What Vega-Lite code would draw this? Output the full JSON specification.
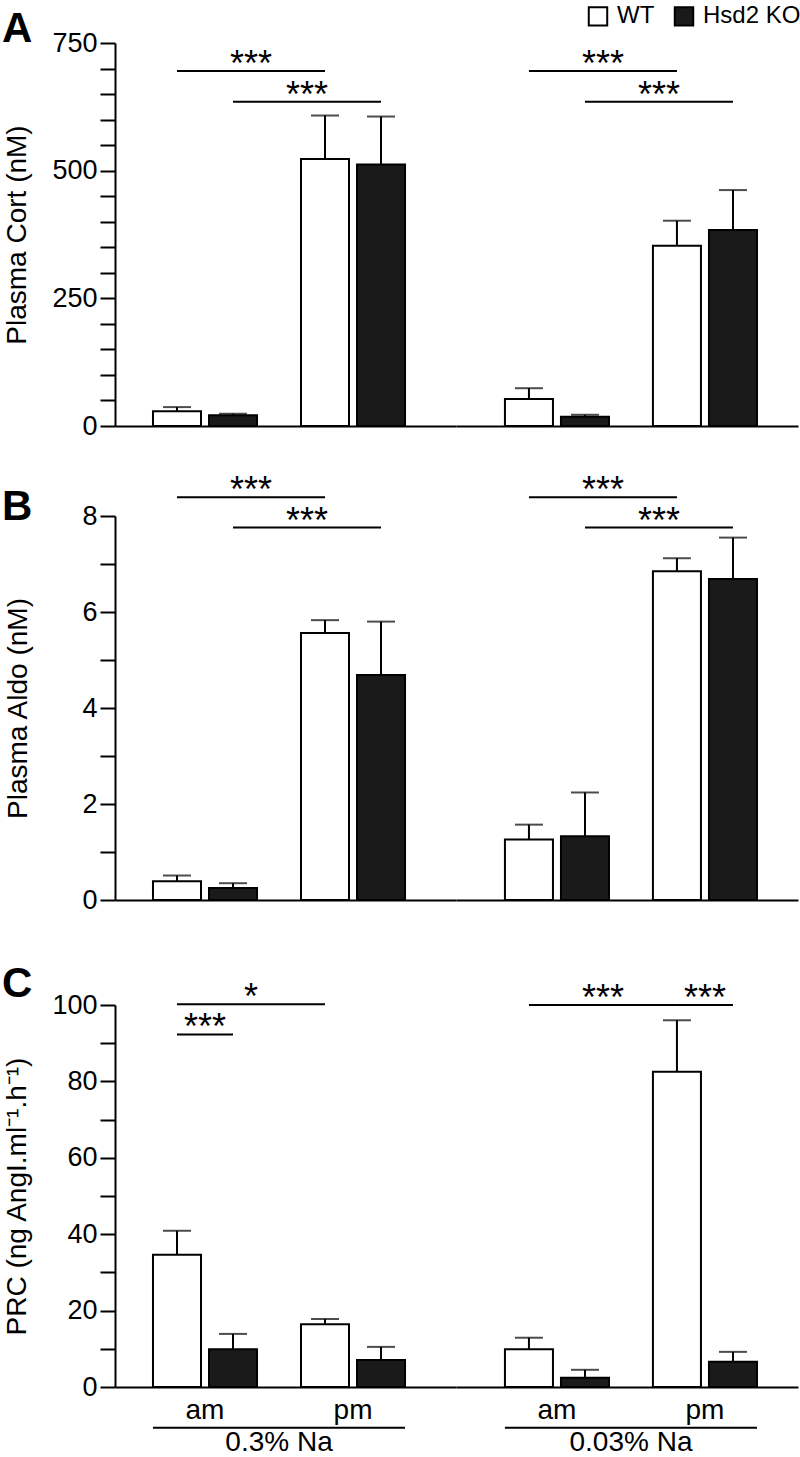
{
  "$schema": "https://vega.github.io/schema/vega-lite/v6.json",
  "padding": {"left": 2, "top": 4, "right": 0, "bottom": 0},
  "datasets": {
    "d": [
      {"panel": "A", "kind": "bar", "diet": "0.3% Na", "time": "am", "genotype": "WT", "mean": 29, "upper": 37},
      {"panel": "A", "kind": "bar", "diet": "0.3% Na", "time": "am", "genotype": "Hsd2 KO", "mean": 21, "upper": 24},
      {"panel": "A", "kind": "bar", "diet": "0.3% Na", "time": "pm", "genotype": "WT", "mean": 523, "upper": 608},
      {"panel": "A", "kind": "bar", "diet": "0.3% Na", "time": "pm", "genotype": "Hsd2 KO", "mean": 512, "upper": 606},
      {"panel": "A", "kind": "bar", "diet": "0.03% Na", "time": "am", "genotype": "WT", "mean": 53, "upper": 74},
      {"panel": "A", "kind": "bar", "diet": "0.03% Na", "time": "am", "genotype": "Hsd2 KO", "mean": 18, "upper": 22},
      {"panel": "A", "kind": "bar", "diet": "0.03% Na", "time": "pm", "genotype": "WT", "mean": 353, "upper": 402},
      {"panel": "A", "kind": "bar", "diet": "0.03% Na", "time": "pm", "genotype": "Hsd2 KO", "mean": 384, "upper": 462},
      {"panel": "A", "kind": "sig", "diet": "0.3% Na", "pair": "A1", "time": "am", "genotype": "WT", "level": 695, "label": "***", "span": "across"},
      {"panel": "A", "kind": "sig", "diet": "0.3% Na", "pair": "A1", "time": "pm", "genotype": "WT", "level": 695},
      {"panel": "A", "kind": "sig", "diet": "0.3% Na", "pair": "A2", "time": "am", "genotype": "Hsd2 KO", "level": 635, "label": "***", "span": "across"},
      {"panel": "A", "kind": "sig", "diet": "0.3% Na", "pair": "A2", "time": "pm", "genotype": "Hsd2 KO", "level": 635},
      {"panel": "A", "kind": "sig", "diet": "0.03% Na", "pair": "A3", "time": "am", "genotype": "WT", "level": 695, "label": "***", "span": "across"},
      {"panel": "A", "kind": "sig", "diet": "0.03% Na", "pair": "A3", "time": "pm", "genotype": "WT", "level": 695},
      {"panel": "A", "kind": "sig", "diet": "0.03% Na", "pair": "A4", "time": "am", "genotype": "Hsd2 KO", "level": 635, "label": "***", "span": "across"},
      {"panel": "A", "kind": "sig", "diet": "0.03% Na", "pair": "A4", "time": "pm", "genotype": "Hsd2 KO", "level": 635},

      {"panel": "B", "kind": "bar", "diet": "0.3% Na", "time": "am", "genotype": "WT", "mean": 0.39, "upper": 0.51},
      {"panel": "B", "kind": "bar", "diet": "0.3% Na", "time": "am", "genotype": "Hsd2 KO", "mean": 0.25, "upper": 0.35},
      {"panel": "B", "kind": "bar", "diet": "0.3% Na", "time": "pm", "genotype": "WT", "mean": 5.56, "upper": 5.83},
      {"panel": "B", "kind": "bar", "diet": "0.3% Na", "time": "pm", "genotype": "Hsd2 KO", "mean": 4.69, "upper": 5.8},
      {"panel": "B", "kind": "bar", "diet": "0.03% Na", "time": "am", "genotype": "WT", "mean": 1.26, "upper": 1.57},
      {"panel": "B", "kind": "bar", "diet": "0.03% Na", "time": "am", "genotype": "Hsd2 KO", "mean": 1.33, "upper": 2.24},
      {"panel": "B", "kind": "bar", "diet": "0.03% Na", "time": "pm", "genotype": "WT", "mean": 6.85, "upper": 7.12},
      {"panel": "B", "kind": "bar", "diet": "0.03% Na", "time": "pm", "genotype": "Hsd2 KO", "mean": 6.69, "upper": 7.55},
      {"panel": "B", "kind": "sig", "diet": "0.3% Na", "pair": "B1", "time": "am", "genotype": "WT", "level": 8.39, "label": "***", "span": "across"},
      {"panel": "B", "kind": "sig", "diet": "0.3% Na", "pair": "B1", "time": "pm", "genotype": "WT", "level": 8.39},
      {"panel": "B", "kind": "sig", "diet": "0.3% Na", "pair": "B2", "time": "am", "genotype": "Hsd2 KO", "level": 7.76, "label": "***", "span": "across"},
      {"panel": "B", "kind": "sig", "diet": "0.3% Na", "pair": "B2", "time": "pm", "genotype": "Hsd2 KO", "level": 7.76},
      {"panel": "B", "kind": "sig", "diet": "0.03% Na", "pair": "B3", "time": "am", "genotype": "WT", "level": 8.39, "label": "***", "span": "across"},
      {"panel": "B", "kind": "sig", "diet": "0.03% Na", "pair": "B3", "time": "pm", "genotype": "WT", "level": 8.39},
      {"panel": "B", "kind": "sig", "diet": "0.03% Na", "pair": "B4", "time": "am", "genotype": "Hsd2 KO", "level": 7.76, "label": "***", "span": "across"},
      {"panel": "B", "kind": "sig", "diet": "0.03% Na", "pair": "B4", "time": "pm", "genotype": "Hsd2 KO", "level": 7.76},

      {"panel": "C", "kind": "bar", "diet": "0.3% Na", "time": "am", "genotype": "WT", "mean": 34.6, "upper": 40.9},
      {"panel": "C", "kind": "bar", "diet": "0.3% Na", "time": "am", "genotype": "Hsd2 KO", "mean": 9.9, "upper": 13.9},
      {"panel": "C", "kind": "bar", "diet": "0.3% Na", "time": "pm", "genotype": "WT", "mean": 16.4, "upper": 17.8},
      {"panel": "C", "kind": "bar", "diet": "0.3% Na", "time": "pm", "genotype": "Hsd2 KO", "mean": 7.1, "upper": 10.5},
      {"panel": "C", "kind": "bar", "diet": "0.03% Na", "time": "am", "genotype": "WT", "mean": 9.9, "upper": 12.9},
      {"panel": "C", "kind": "bar", "diet": "0.03% Na", "time": "am", "genotype": "Hsd2 KO", "mean": 2.4, "upper": 4.5},
      {"panel": "C", "kind": "bar", "diet": "0.03% Na", "time": "pm", "genotype": "WT", "mean": 82.5, "upper": 96.0},
      {"panel": "C", "kind": "bar", "diet": "0.03% Na", "time": "pm", "genotype": "Hsd2 KO", "mean": 6.6, "upper": 9.2},
      {"panel": "C", "kind": "sig", "diet": "0.3% Na", "pair": "C1", "time": "am", "genotype": "WT", "level": 100.2, "label": "*", "span": "across"},
      {"panel": "C", "kind": "sig", "diet": "0.3% Na", "pair": "C1", "time": "pm", "genotype": "WT", "level": 100.2},
      {"panel": "C", "kind": "sig", "diet": "0.3% Na", "pair": "C2", "time": "am", "genotype": "WT", "level": 92.3, "label": "***", "span": "within"},
      {"panel": "C", "kind": "sig", "diet": "0.3% Na", "pair": "C2", "time": "am", "genotype": "Hsd2 KO", "level": 92.3},
      {"panel": "C", "kind": "sig", "diet": "0.03% Na", "pair": "C3", "time": "am", "genotype": "WT", "level": 100, "label": "***", "span": "across"},
      {"panel": "C", "kind": "sig", "diet": "0.03% Na", "pair": "C3", "time": "pm", "genotype": "WT", "level": 100},
      {"panel": "C", "kind": "sig", "diet": "0.03% Na", "pair": "C4", "time": "pm", "genotype": "WT", "level": 100, "label": "***", "span": "within"},
      {"panel": "C", "kind": "sig", "diet": "0.03% Na", "pair": "C4", "time": "pm", "genotype": "Hsd2 KO", "level": 100},
      {"panel": "C", "kind": "grp", "diet": "0.3% Na"},
      {"panel": "C", "kind": "grp", "diet": "0.03% Na"}
    ]
  },
  "data": {"name": "d"},
  "config": {
    "font": "Liberation Sans",
    "view": {"stroke": null},
    "axis": {"domainColor": "black", "domainWidth": 2, "tickColor": "black", "tickWidth": 2, "labelColor": "black", "labelFont": "Liberation Sans", "labelFontSize": 27, "titleFont": "Liberation Sans", "titleFontSize": 28, "titleFontWeight": "normal", "titleColor": "black", "grid": false},
    "legend": {"orient": "none", "legendX": 471, "legendY": -39, "direction": "horizontal", "symbolType": "square", "symbolSize": 340, "symbolStrokeColor": "black", "symbolStrokeWidth": 2, "symbolOpacity": 1, "labelFontSize": 24, "labelFont": "Liberation Sans", "labelColor": "black", "labelOffset": 7, "columnPadding": 15, "padding": 0},
    "title": {"font": "Liberation Sans", "color": "black"},
    "text": {"font": "Liberation Sans", "color": "black"}
  },
  "resolve": {"scale": {"xOffset": "independent"}},
  "spacing": 34,
  "vconcat": [
    {
      "hconcat": [
        {
          "width": 341, "height": 383,
          "title": {"text": "A", "orient": "top", "anchor": "start", "frame": "group", "fontSize": 42, "fontWeight": "bold", "baseline": "alphabetic", "dx": -113, "offset": -55},
          "transform": [{"filter": "datum.panel === 'A' && datum.diet === '0.3% Na'"}],
          "encoding": {"x": {"field": "time", "type": "nominal", "scale": {"domain": ["am", "pm"], "paddingInner": 0.297, "paddingOuter": 0.3005, "align": 0.427}, "axis": {"title": null, "labels": false, "ticks": false}}},
          "layer": [
            {"transform": [{"filter": "datum.kind === 'bar'"}], "mark": {"type": "bar", "stroke": "black", "strokeWidth": 2},
             "encoding": {"xOffset": {"field": "genotype", "type": "nominal", "scale": {"domain": ["WT", "Hsd2 KO"], "paddingInner": 0.143, "paddingOuter": 0}},
               "y": {"field": "mean", "type": "quantitative", "scale": {"domain": [0, 750], "nice": false}, "axis": {"title": "Plasma Cort (nM)", "values": [0, 50, 100, 150, 200, 250, 300, 350, 400, 450, 500, 550, 600, 650, 700, 750], "labelExpr": "datum.value % 250 === 0 ? datum.label : ''", "tickSize": 15, "labelPadding": 3, "titlePadding": 20, "encode": {"ticks": {"update": {"x2": {"signal": "datum.value % 250 === 0 ? -15 : -10"}}}}}},
               "fill": {"field": "genotype", "type": "nominal", "title": null, "scale": {"domain": ["WT", "Hsd2 KO"], "range": ["white", "#1a1a1a"]}}}},
            {"transform": [{"filter": "datum.kind === 'bar'"}], "mark": {"type": "rule", "color": "black", "strokeWidth": 2},
             "encoding": {"xOffset": {"field": "genotype", "type": "nominal", "scale": {"domain": ["WT", "Hsd2 KO"], "paddingInner": 0.143, "paddingOuter": 0}},
               "y": {"field": "mean", "type": "quantitative", "scale": {"domain": [0, 750], "nice": false}, "axis": {"title": "Plasma Cort (nM)", "values": [0, 50, 100, 150, 200, 250, 300, 350, 400, 450, 500, 550, 600, 650, 700, 750], "labelExpr": "datum.value % 250 === 0 ? datum.label : ''", "tickSize": 15, "labelPadding": 3, "titlePadding": 20, "encode": {"ticks": {"update": {"x2": {"signal": "datum.value % 250 === 0 ? -15 : -10"}}}}}}, "y2": {"field": "upper"}}},
            {"transform": [{"filter": "datum.kind === 'bar'"}], "mark": {"type": "tick", "color": "black", "thickness": 2, "size": 28, "orient": "horizontal"},
             "encoding": {"xOffset": {"field": "genotype", "type": "nominal", "scale": {"domain": ["WT", "Hsd2 KO"], "paddingInner": 0.143, "paddingOuter": 0}},
               "y": {"field": "upper", "type": "quantitative", "scale": {"domain": [0, 750], "nice": false}, "axis": {"title": "Plasma Cort (nM)", "values": [0, 50, 100, 150, 200, 250, 300, 350, 400, 450, 500, 550, 600, 650, 700, 750], "labelExpr": "datum.value % 250 === 0 ? datum.label : ''", "tickSize": 15, "labelPadding": 3, "titlePadding": 20, "encode": {"ticks": {"update": {"x2": {"signal": "datum.value % 250 === 0 ? -15 : -10"}}}}}}}},
            {"transform": [{"filter": "datum.kind === 'sig'"}], "mark": {"type": "line", "color": "black", "strokeWidth": 2},
             "encoding": {"xOffset": {"field": "genotype", "type": "nominal", "scale": {"domain": ["WT", "Hsd2 KO"], "paddingInner": 0.143, "paddingOuter": 0}},
               "y": {"field": "level", "type": "quantitative", "scale": {"domain": [0, 750], "nice": false}, "axis": {"title": "Plasma Cort (nM)", "values": [0, 50, 100, 150, 200, 250, 300, 350, 400, 450, 500, 550, 600, 650, 700, 750], "labelExpr": "datum.value % 250 === 0 ? datum.label : ''", "tickSize": 15, "labelPadding": 3, "titlePadding": 20, "encode": {"ticks": {"update": {"x2": {"signal": "datum.value % 250 === 0 ? -15 : -10"}}}}}}, "detail": {"field": "pair"}}},
            {"transform": [{"filter": "datum.kind === 'sig' && datum.span === 'across'"}], "mark": {"type": "text", "fontSize": 36, "baseline": "alphabetic", "dx": 74, "dy": 5},
             "encoding": {"xOffset": {"field": "genotype", "type": "nominal", "scale": {"domain": ["WT", "Hsd2 KO"], "paddingInner": 0.143, "paddingOuter": 0}},
               "y": {"field": "level", "type": "quantitative", "scale": {"domain": [0, 750], "nice": false}, "axis": {"title": "Plasma Cort (nM)", "values": [0, 50, 100, 150, 200, 250, 300, 350, 400, 450, 500, 550, 600, 650, 700, 750], "labelExpr": "datum.value % 250 === 0 ? datum.label : ''", "tickSize": 15, "labelPadding": 3, "titlePadding": 20, "encode": {"ticks": {"update": {"x2": {"signal": "datum.value % 250 === 0 ? -15 : -10"}}}}}}, "text": {"field": "label"}}}
          ]
        },
        {
          "width": 342, "height": 383,
          "transform": [{"filter": "datum.panel === 'A' && datum.diet === '0.03% Na'"}],
          "encoding": {"x": {"field": "time", "type": "nominal", "scale": {"domain": ["am", "pm"], "paddingInner": 0.297, "paddingOuter": 0.3039, "align": 0.544}, "axis": {"title": null, "labels": false, "ticks": false}}},
          "layer": [
            {"transform": [{"filter": "datum.kind === 'bar'"}], "mark": {"type": "bar", "stroke": "black", "strokeWidth": 2},
             "encoding": {"xOffset": {"field": "genotype", "type": "nominal", "scale": {"domain": ["WT", "Hsd2 KO"], "paddingInner": 0.143, "paddingOuter": 0}},
               "y": {"field": "mean", "type": "quantitative", "scale": {"domain": [0, 750], "nice": false}, "axis": null},
               "fill": {"field": "genotype", "type": "nominal", "title": null, "scale": {"domain": ["WT", "Hsd2 KO"], "range": ["white", "#1a1a1a"]}}}},
            {"transform": [{"filter": "datum.kind === 'bar'"}], "mark": {"type": "rule", "color": "black", "strokeWidth": 2},
             "encoding": {"xOffset": {"field": "genotype", "type": "nominal", "scale": {"domain": ["WT", "Hsd2 KO"], "paddingInner": 0.143, "paddingOuter": 0}},
               "y": {"field": "mean", "type": "quantitative", "scale": {"domain": [0, 750], "nice": false}, "axis": null}, "y2": {"field": "upper"}}},
            {"transform": [{"filter": "datum.kind === 'bar'"}], "mark": {"type": "tick", "color": "black", "thickness": 2, "size": 28, "orient": "horizontal"},
             "encoding": {"xOffset": {"field": "genotype", "type": "nominal", "scale": {"domain": ["WT", "Hsd2 KO"], "paddingInner": 0.143, "paddingOuter": 0}},
               "y": {"field": "upper", "type": "quantitative", "scale": {"domain": [0, 750], "nice": false}, "axis": null}}},
            {"transform": [{"filter": "datum.kind === 'sig'"}], "mark": {"type": "line", "color": "black", "strokeWidth": 2},
             "encoding": {"xOffset": {"field": "genotype", "type": "nominal", "scale": {"domain": ["WT", "Hsd2 KO"], "paddingInner": 0.143, "paddingOuter": 0}},
               "y": {"field": "level", "type": "quantitative", "scale": {"domain": [0, 750], "nice": false}, "axis": null}, "detail": {"field": "pair"}}},
            {"transform": [{"filter": "datum.kind === 'sig' && datum.span === 'across'"}], "mark": {"type": "text", "fontSize": 36, "baseline": "alphabetic", "dx": 74, "dy": 5},
             "encoding": {"xOffset": {"field": "genotype", "type": "nominal", "scale": {"domain": ["WT", "Hsd2 KO"], "paddingInner": 0.143, "paddingOuter": 0}},
               "y": {"field": "level", "type": "quantitative", "scale": {"domain": [0, 750], "nice": false}, "axis": null}, "text": {"field": "label"}}}
          ]
        }
      ],
      "spacing": 0, "bounds": "flush",
      "resolve": {"scale": {"xOffset": "independent"}}
    },
    {
      "vconcat": [
        {
          "hconcat": [
            {
              "width": 341, "height": 384,
              "title": {"text": "B", "orient": "top", "anchor": "start", "frame": "group", "fontSize": 42, "fontWeight": "bold", "baseline": "alphabetic", "dx": -113, "offset": -89},
              "transform": [{"filter": "datum.panel === 'B' && datum.diet === '0.3% Na'"}],
              "encoding": {"x": {"field": "time", "type": "nominal", "scale": {"domain": ["am", "pm"], "paddingInner": 0.297, "paddingOuter": 0.3005, "align": 0.427}, "axis": {"title": null, "labels": false, "ticks": false}}},
              "layer": [
                {"transform": [{"filter": "datum.kind === 'bar'"}], "mark": {"type": "bar", "stroke": "black", "strokeWidth": 2},
                 "encoding": {"xOffset": {"field": "genotype", "type": "nominal", "scale": {"domain": ["WT", "Hsd2 KO"], "paddingInner": 0.143, "paddingOuter": 0}},
                   "y": {"field": "mean", "type": "quantitative", "scale": {"domain": [0, 8], "nice": false}, "axis": {"title": "Plasma Aldo (nM)", "values": [0, 1, 2, 3, 4, 5, 6, 7, 8], "labelExpr": "datum.value % 2 === 0 ? datum.label : ''", "tickSize": 15, "labelPadding": 3, "titlePadding": 49, "encode": {"ticks": {"update": {"x2": {"signal": "datum.value % 2 === 0 ? -15 : -10"}}}}}},
                   "fill": {"field": "genotype", "type": "nominal", "title": null, "scale": {"domain": ["WT", "Hsd2 KO"], "range": ["white", "#1a1a1a"]}}}},
                {"transform": [{"filter": "datum.kind === 'bar'"}], "mark": {"type": "rule", "color": "black", "strokeWidth": 2},
                 "encoding": {"xOffset": {"field": "genotype", "type": "nominal", "scale": {"domain": ["WT", "Hsd2 KO"], "paddingInner": 0.143, "paddingOuter": 0}},
                   "y": {"field": "mean", "type": "quantitative", "scale": {"domain": [0, 8], "nice": false}, "axis": {"title": "Plasma Aldo (nM)", "values": [0, 1, 2, 3, 4, 5, 6, 7, 8], "labelExpr": "datum.value % 2 === 0 ? datum.label : ''", "tickSize": 15, "labelPadding": 3, "titlePadding": 49, "encode": {"ticks": {"update": {"x2": {"signal": "datum.value % 2 === 0 ? -15 : -10"}}}}}}, "y2": {"field": "upper"}}},
                {"transform": [{"filter": "datum.kind === 'bar'"}], "mark": {"type": "tick", "color": "black", "thickness": 2, "size": 28, "orient": "horizontal"},
                 "encoding": {"xOffset": {"field": "genotype", "type": "nominal", "scale": {"domain": ["WT", "Hsd2 KO"], "paddingInner": 0.143, "paddingOuter": 0}},
                   "y": {"field": "upper", "type": "quantitative", "scale": {"domain": [0, 8], "nice": false}, "axis": {"title": "Plasma Aldo (nM)", "values": [0, 1, 2, 3, 4, 5, 6, 7, 8], "labelExpr": "datum.value % 2 === 0 ? datum.label : ''", "tickSize": 15, "labelPadding": 3, "titlePadding": 49, "encode": {"ticks": {"update": {"x2": {"signal": "datum.value % 2 === 0 ? -15 : -10"}}}}}}}},
                {"transform": [{"filter": "datum.kind === 'sig'"}], "mark": {"type": "line", "color": "black", "strokeWidth": 2},
                 "encoding": {"xOffset": {"field": "genotype", "type": "nominal", "scale": {"domain": ["WT", "Hsd2 KO"], "paddingInner": 0.143, "paddingOuter": 0}},
                   "y": {"field": "level", "type": "quantitative", "scale": {"domain": [0, 8], "nice": false}, "axis": {"title": "Plasma Aldo (nM)", "values": [0, 1, 2, 3, 4, 5, 6, 7, 8], "labelExpr": "datum.value % 2 === 0 ? datum.label : ''", "tickSize": 15, "labelPadding": 3, "titlePadding": 49, "encode": {"ticks": {"update": {"x2": {"signal": "datum.value % 2 === 0 ? -15 : -10"}}}}}}, "detail": {"field": "pair"}}},
                {"transform": [{"filter": "datum.kind === 'sig' && datum.span === 'across'"}], "mark": {"type": "text", "fontSize": 36, "baseline": "alphabetic", "dx": 74, "dy": 5},
                 "encoding": {"xOffset": {"field": "genotype", "type": "nominal", "scale": {"domain": ["WT", "Hsd2 KO"], "paddingInner": 0.143, "paddingOuter": 0}},
                   "y": {"field": "level", "type": "quantitative", "scale": {"domain": [0, 8], "nice": false}, "axis": {"title": "Plasma Aldo (nM)", "values": [0, 1, 2, 3, 4, 5, 6, 7, 8], "labelExpr": "datum.value % 2 === 0 ? datum.label : ''", "tickSize": 15, "labelPadding": 3, "titlePadding": 49, "encode": {"ticks": {"update": {"x2": {"signal": "datum.value % 2 === 0 ? -15 : -10"}}}}}}, "text": {"field": "label"}}}
              ]
            },
            {
              "width": 342, "height": 384,
              "transform": [{"filter": "datum.panel === 'B' && datum.diet === '0.03% Na'"}],
              "encoding": {"x": {"field": "time", "type": "nominal", "scale": {"domain": ["am", "pm"], "paddingInner": 0.297, "paddingOuter": 0.3039, "align": 0.544}, "axis": {"title": null, "labels": false, "ticks": false}}},
              "layer": [
                {"transform": [{"filter": "datum.kind === 'bar'"}], "mark": {"type": "bar", "stroke": "black", "strokeWidth": 2},
                 "encoding": {"xOffset": {"field": "genotype", "type": "nominal", "scale": {"domain": ["WT", "Hsd2 KO"], "paddingInner": 0.143, "paddingOuter": 0}},
                   "y": {"field": "mean", "type": "quantitative", "scale": {"domain": [0, 8], "nice": false}, "axis": null},
                   "fill": {"field": "genotype", "type": "nominal", "title": null, "scale": {"domain": ["WT", "Hsd2 KO"], "range": ["white", "#1a1a1a"]}}}},
                {"transform": [{"filter": "datum.kind === 'bar'"}], "mark": {"type": "rule", "color": "black", "strokeWidth": 2},
                 "encoding": {"xOffset": {"field": "genotype", "type": "nominal", "scale": {"domain": ["WT", "Hsd2 KO"], "paddingInner": 0.143, "paddingOuter": 0}},
                   "y": {"field": "mean", "type": "quantitative", "scale": {"domain": [0, 8], "nice": false}, "axis": null}, "y2": {"field": "upper"}}},
                {"transform": [{"filter": "datum.kind === 'bar'"}], "mark": {"type": "tick", "color": "black", "thickness": 2, "size": 28, "orient": "horizontal"},
                 "encoding": {"xOffset": {"field": "genotype", "type": "nominal", "scale": {"domain": ["WT", "Hsd2 KO"], "paddingInner": 0.143, "paddingOuter": 0}},
                   "y": {"field": "upper", "type": "quantitative", "scale": {"domain": [0, 8], "nice": false}, "axis": null}}},
                {"transform": [{"filter": "datum.kind === 'sig'"}], "mark": {"type": "line", "color": "black", "strokeWidth": 2},
                 "encoding": {"xOffset": {"field": "genotype", "type": "nominal", "scale": {"domain": ["WT", "Hsd2 KO"], "paddingInner": 0.143, "paddingOuter": 0}},
                   "y": {"field": "level", "type": "quantitative", "scale": {"domain": [0, 8], "nice": false}, "axis": null}, "detail": {"field": "pair"}}},
                {"transform": [{"filter": "datum.kind === 'sig' && datum.span === 'across'"}], "mark": {"type": "text", "fontSize": 36, "baseline": "alphabetic", "dx": 74, "dy": 5},
                 "encoding": {"xOffset": {"field": "genotype", "type": "nominal", "scale": {"domain": ["WT", "Hsd2 KO"], "paddingInner": 0.143, "paddingOuter": 0}},
                   "y": {"field": "level", "type": "quantitative", "scale": {"domain": [0, 8], "nice": false}, "axis": null}, "text": {"field": "label"}}}
              ]
            }
          ],
          "spacing": 0, "bounds": "flush",
          "resolve": {"scale": {"xOffset": "independent"}}
        },
        {
          "hconcat": [
            {
              "width": 341, "height": 382,
              "title": {"text": "C", "orient": "top", "anchor": "start", "frame": "group", "fontSize": 42, "fontWeight": "bold", "baseline": "alphabetic", "dx": -113, "offset": -58.5},
              "transform": [{"filter": "datum.panel === 'C' && datum.diet === '0.3% Na'"}],
              "encoding": {"x": {"field": "time", "type": "nominal", "scale": {"domain": ["am", "pm"], "paddingInner": 0.297, "paddingOuter": 0.3005, "align": 0.427}, "axis": {"title": null, "ticks": false, "labelFontSize": 28, "labelPadding": 9, "labelAngle": 0}}},
              "layer": [
                {"transform": [{"filter": "datum.kind === 'bar'"}], "mark": {"type": "bar", "stroke": "black", "strokeWidth": 2},
                 "encoding": {"xOffset": {"field": "genotype", "type": "nominal", "scale": {"domain": ["WT", "Hsd2 KO"], "paddingInner": 0.143, "paddingOuter": 0}},
                   "y": {"field": "mean", "type": "quantitative", "scale": {"domain": [0, 100], "nice": false}, "axis": {"title": "PRC (ng AngI.ml⁻¹.h⁻¹)", "values": [0, 10, 20, 30, 40, 50, 60, 70, 80, 90, 100], "labelExpr": "datum.value % 20 === 0 ? datum.label : ''", "tickSize": 15, "labelPadding": 3, "titlePadding": 20, "encode": {"ticks": {"update": {"x2": {"signal": "datum.value % 20 === 0 ? -15 : -10"}}}}}},
                   "fill": {"field": "genotype", "type": "nominal", "title": null, "scale": {"domain": ["WT", "Hsd2 KO"], "range": ["white", "#1a1a1a"]}}}},
                {"transform": [{"filter": "datum.kind === 'bar'"}], "mark": {"type": "rule", "color": "black", "strokeWidth": 2},
                 "encoding": {"xOffset": {"field": "genotype", "type": "nominal", "scale": {"domain": ["WT", "Hsd2 KO"], "paddingInner": 0.143, "paddingOuter": 0}},
                   "y": {"field": "mean", "type": "quantitative", "scale": {"domain": [0, 100], "nice": false}, "axis": {"title": "PRC (ng AngI.ml⁻¹.h⁻¹)", "values": [0, 10, 20, 30, 40, 50, 60, 70, 80, 90, 100], "labelExpr": "datum.value % 20 === 0 ? datum.label : ''", "tickSize": 15, "labelPadding": 3, "titlePadding": 20, "encode": {"ticks": {"update": {"x2": {"signal": "datum.value % 20 === 0 ? -15 : -10"}}}}}}, "y2": {"field": "upper"}}},
                {"transform": [{"filter": "datum.kind === 'bar'"}], "mark": {"type": "tick", "color": "black", "thickness": 2, "size": 28, "orient": "horizontal"},
                 "encoding": {"xOffset": {"field": "genotype", "type": "nominal", "scale": {"domain": ["WT", "Hsd2 KO"], "paddingInner": 0.143, "paddingOuter": 0}},
                   "y": {"field": "upper", "type": "quantitative", "scale": {"domain": [0, 100], "nice": false}, "axis": {"title": "PRC (ng AngI.ml⁻¹.h⁻¹)", "values": [0, 10, 20, 30, 40, 50, 60, 70, 80, 90, 100], "labelExpr": "datum.value % 20 === 0 ? datum.label : ''", "tickSize": 15, "labelPadding": 3, "titlePadding": 20, "encode": {"ticks": {"update": {"x2": {"signal": "datum.value % 20 === 0 ? -15 : -10"}}}}}}}},
                {"transform": [{"filter": "datum.kind === 'sig'"}], "mark": {"type": "line", "color": "black", "strokeWidth": 2},
                 "encoding": {"xOffset": {"field": "genotype", "type": "nominal", "scale": {"domain": ["WT", "Hsd2 KO"], "paddingInner": 0.143, "paddingOuter": 0}},
                   "y": {"field": "level", "type": "quantitative", "scale": {"domain": [0, 100], "nice": false}, "axis": {"title": "PRC (ng AngI.ml⁻¹.h⁻¹)", "values": [0, 10, 20, 30, 40, 50, 60, 70, 80, 90, 100], "labelExpr": "datum.value % 20 === 0 ? datum.label : ''", "tickSize": 15, "labelPadding": 3, "titlePadding": 20, "encode": {"ticks": {"update": {"x2": {"signal": "datum.value % 20 === 0 ? -15 : -10"}}}}}}, "detail": {"field": "pair"}}},
                {"transform": [{"filter": "datum.kind === 'sig' && datum.span === 'across'"}], "mark": {"type": "text", "fontSize": 36, "baseline": "alphabetic", "dx": 74, "dy": 5},
                 "encoding": {"xOffset": {"field": "genotype", "type": "nominal", "scale": {"domain": ["WT", "Hsd2 KO"], "paddingInner": 0.143, "paddingOuter": 0}},
                   "y": {"field": "level", "type": "quantitative", "scale": {"domain": [0, 100], "nice": false}, "axis": {"title": "PRC (ng AngI.ml⁻¹.h⁻¹)", "values": [0, 10, 20, 30, 40, 50, 60, 70, 80, 90, 100], "labelExpr": "datum.value % 20 === 0 ? datum.label : ''", "tickSize": 15, "labelPadding": 3, "titlePadding": 20, "encode": {"ticks": {"update": {"x2": {"signal": "datum.value % 20 === 0 ? -15 : -10"}}}}}}, "text": {"field": "label"}}},
                {"transform": [{"filter": "datum.kind === 'sig' && datum.span === 'within'"}], "mark": {"type": "text", "fontSize": 36, "baseline": "alphabetic", "dy": 5},
                 "encoding": {"y": {"field": "level", "type": "quantitative", "scale": {"domain": [0, 100], "nice": false}, "axis": {"title": "PRC (ng AngI.ml⁻¹.h⁻¹)", "values": [0, 10, 20, 30, 40, 50, 60, 70, 80, 90, 100], "labelExpr": "datum.value % 20 === 0 ? datum.label : ''", "tickSize": 15, "labelPadding": 3, "titlePadding": 20, "encode": {"ticks": {"update": {"x2": {"signal": "datum.value % 20 === 0 ? -15 : -10"}}}}}}, "text": {"field": "label"}}},
                {"transform": [{"filter": "datum.kind === 'grp'"}], "mark": {"type": "rule", "color": "black", "strokeWidth": 2},
                 "encoding": {"x": {"datum": "am", "type": "nominal", "bandPosition": 0}, "x2": {"datum": "pm", "bandPosition": 1},
                   "y": {"datum": -10.65, "type": "quantitative", "scale": {"domain": [0, 100], "nice": false}, "axis": {"title": "PRC (ng AngI.ml⁻¹.h⁻¹)", "values": [0, 10, 20, 30, 40, 50, 60, 70, 80, 90, 100], "labelExpr": "datum.value % 20 === 0 ? datum.label : ''", "tickSize": 15, "labelPadding": 3, "titlePadding": 20, "encode": {"ticks": {"update": {"x2": {"signal": "datum.value % 20 === 0 ? -15 : -10"}}}}}}}},
                {"transform": [{"filter": "datum.kind === 'grp'"}], "mark": {"type": "text", "fontSize": 28, "baseline": "alphabetic"},
                 "encoding": {"x": {"datum": "am", "type": "nominal", "bandPosition": 1.2115},
                   "y": {"datum": -16.86, "type": "quantitative", "scale": {"domain": [0, 100], "nice": false}, "axis": {"title": "PRC (ng AngI.ml⁻¹.h⁻¹)", "values": [0, 10, 20, 30, 40, 50, 60, 70, 80, 90, 100], "labelExpr": "datum.value % 20 === 0 ? datum.label : ''", "tickSize": 15, "labelPadding": 3, "titlePadding": 20, "encode": {"ticks": {"update": {"x2": {"signal": "datum.value % 20 === 0 ? -15 : -10"}}}}}}, "text": {"field": "diet"}}}
              ]
            },
            {
              "width": 342, "height": 382,
              "transform": [{"filter": "datum.panel === 'C' && datum.diet === '0.03% Na'"}],
              "encoding": {"x": {"field": "time", "type": "nominal", "scale": {"domain": ["am", "pm"], "paddingInner": 0.297, "paddingOuter": 0.3039, "align": 0.544}, "axis": {"title": null, "ticks": false, "labelFontSize": 28, "labelPadding": 9, "labelAngle": 0}}},
              "layer": [
                {"transform": [{"filter": "datum.kind === 'bar'"}], "mark": {"type": "bar", "stroke": "black", "strokeWidth": 2},
                 "encoding": {"xOffset": {"field": "genotype", "type": "nominal", "scale": {"domain": ["WT", "Hsd2 KO"], "paddingInner": 0.143, "paddingOuter": 0}},
                   "y": {"field": "mean", "type": "quantitative", "scale": {"domain": [0, 100], "nice": false}, "axis": null},
                   "fill": {"field": "genotype", "type": "nominal", "title": null, "scale": {"domain": ["WT", "Hsd2 KO"], "range": ["white", "#1a1a1a"]}}}},
                {"transform": [{"filter": "datum.kind === 'bar'"}], "mark": {"type": "rule", "color": "black", "strokeWidth": 2},
                 "encoding": {"xOffset": {"field": "genotype", "type": "nominal", "scale": {"domain": ["WT", "Hsd2 KO"], "paddingInner": 0.143, "paddingOuter": 0}},
                   "y": {"field": "mean", "type": "quantitative", "scale": {"domain": [0, 100], "nice": false}, "axis": null}, "y2": {"field": "upper"}}},
                {"transform": [{"filter": "datum.kind === 'bar'"}], "mark": {"type": "tick", "color": "black", "thickness": 2, "size": 28, "orient": "horizontal"},
                 "encoding": {"xOffset": {"field": "genotype", "type": "nominal", "scale": {"domain": ["WT", "Hsd2 KO"], "paddingInner": 0.143, "paddingOuter": 0}},
                   "y": {"field": "upper", "type": "quantitative", "scale": {"domain": [0, 100], "nice": false}, "axis": null}}},
                {"transform": [{"filter": "datum.kind === 'sig'"}], "mark": {"type": "line", "color": "black", "strokeWidth": 2},
                 "encoding": {"xOffset": {"field": "genotype", "type": "nominal", "scale": {"domain": ["WT", "Hsd2 KO"], "paddingInner": 0.143, "paddingOuter": 0}},
                   "y": {"field": "level", "type": "quantitative", "scale": {"domain": [0, 100], "nice": false}, "axis": null}, "detail": {"field": "pair"}}},
                {"transform": [{"filter": "datum.kind === 'sig' && datum.span === 'across'"}], "mark": {"type": "text", "fontSize": 36, "baseline": "alphabetic", "dx": 74, "dy": 5},
                 "encoding": {"xOffset": {"field": "genotype", "type": "nominal", "scale": {"domain": ["WT", "Hsd2 KO"], "paddingInner": 0.143, "paddingOuter": 0}},
                   "y": {"field": "level", "type": "quantitative", "scale": {"domain": [0, 100], "nice": false}, "axis": null}, "text": {"field": "label"}}},
                {"transform": [{"filter": "datum.kind === 'sig' && datum.span === 'within'"}], "mark": {"type": "text", "fontSize": 36, "baseline": "alphabetic", "dy": 5},
                 "encoding": {"y": {"field": "level", "type": "quantitative", "scale": {"domain": [0, 100], "nice": false}, "axis": null}, "text": {"field": "label"}}},
                {"transform": [{"filter": "datum.kind === 'grp'"}], "mark": {"type": "rule", "color": "black", "strokeWidth": 2},
                 "encoding": {"x": {"datum": "am", "type": "nominal", "bandPosition": 0}, "x2": {"datum": "pm", "bandPosition": 1},
                   "y": {"datum": -10.65, "type": "quantitative", "scale": {"domain": [0, 100], "nice": false}, "axis": null}}},
                {"transform": [{"filter": "datum.kind === 'grp'"}], "mark": {"type": "text", "fontSize": 28, "baseline": "alphabetic"},
                 "encoding": {"x": {"datum": "am", "type": "nominal", "bandPosition": 1.2115},
                   "y": {"datum": -16.86, "type": "quantitative", "scale": {"domain": [0, 100], "nice": false}, "axis": null}, "text": {"field": "diet"}}}
              ]
            }
          ],
          "spacing": 0, "bounds": "flush",
          "resolve": {"scale": {"xOffset": "independent"}}
        }
      ],
      "spacing": 49,
      "resolve": {"scale": {"xOffset": "independent"}}
    }
  ]
}
